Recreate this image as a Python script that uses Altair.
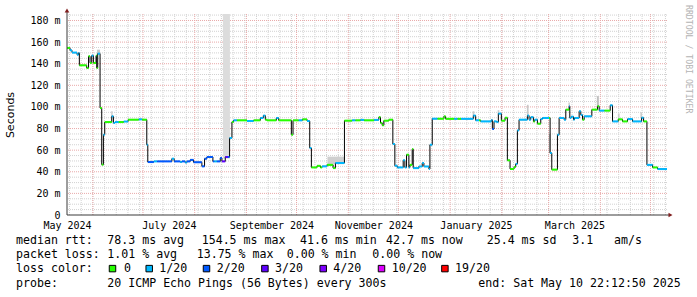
import altair as alt
import pandas as pd
from datetime import datetime, timezone, timedelta

START = datetime(2024, 5, 16, 12, 0, 0, tzinfo=timezone.utc)
END = datetime(2025, 5, 10, 22, 12, 50, tzinfo=timezone.utc)


def ms(dt):
    return int(dt.timestamp() * 1000)


# ---- median rtt samples: day offset from START, value (ms), loss level index ----
days = [0, 1.8, 3.0, 6.0, 6.9, 7.4, 11.8, 12.9, 13.8, 14.8, 15.8, 17.4, 17.8, 18.4,
        19.8, 20.8, 21.8, 22.6, 26.8, 27.8, 28.8, 31.0, 34.0, 36.6, 43.0, 45.0, 47.8,
        48.4, 52.0, 54.0, 62.8, 64.2, 67.8, 68.8, 70.8, 71.8, 73.8, 75.8, 80.8, 82.4,
        83.8, 87.4, 88.2, 89.8, 91.8, 92.8, 94.8, 96.4, 97.4, 98.8, 99.8, 101.8, 107.8,
        111.8, 115.8, 117.6, 118.8, 119.8, 125.4, 126.8, 134.4, 135.4, 138.8, 141.0,
        143.8, 145.4, 146.4, 149.8, 151.8, 152.8, 155.8, 159.4, 160.8, 166.2, 170.8,
        172.8, 175.8, 178.0, 184.0, 186.8, 187.8, 188.8, 189.8, 192.8, 195.2, 196.4,
        197.8, 201.4, 202.4, 203.4, 204.8, 205.4, 206.8, 207.4, 210.8, 212.8, 213.8,
        216.8, 217.4, 218.8, 222.0, 225.8, 226.8, 232.0, 234.0, 236.0, 243.4, 244.8,
        246.8, 247.8, 254.2, 254.8, 255.8, 257.4, 258.4, 260.2, 262.4, 263.8, 265.4,
        267.8, 268.8, 269.8, 270.8, 275.8, 276.8, 277.8, 279.4, 280.2, 281.8, 283.8,
        284.8, 288.8, 289.4, 290.4, 293.8, 294.8, 296.0, 297.8, 298.8, 300.8, 301.2,
        302.0, 303.4, 304.0, 306.8, 307.8, 308.8, 309.8, 314.4, 317.8, 318.8, 322.0,
        325.4, 326.8, 330.2, 332.8, 335.8, 338.8, 344.2, 345.4, 347.4, 350.8, 353.8]
rtt = [154.6, 152.4, 150.3, 148.4, 150.0, 138.5, 136.0, 146.9, 140.7, 147.5, 140.7, 147.5,
       136.0, 149.3, 99.0, 46.6, 74.3, 86.0, 91.3, 85.2, 86.0, 86.0, 86.5, 88.2, 88.5,
       88.2, 65.0, 49.0, 49.6, 49.6, 52.1, 49.6, 49.0, 49.6, 48.5, 49.6, 51.0, 48.8,
       45.0, 52.1, 53.7, 49.6, 49.6, 49.6, 52.8, 49.6, 53.7, 53.7, 71.3, 86.1, 87.6,
       87.6, 87.0, 87.6, 89.8, 92.0, 88.2, 87.6, 89.8, 87.6, 74.3, 87.6, 87.6, 88.5,
       87.0, 62.0, 44.0, 45.5, 44.0, 45.0, 46.4, 43.4, 48.1, 87.3, 87.6, 87.6, 88.0,
       87.6, 88.0, 90.5, 85.2, 83.0, 87.3, 88.2, 65.7, 45.6, 44.0, 50.6, 44.0, 55.8,
       44.0, 46.4, 61.0, 43.4, 44.9, 48.1, 44.9, 42.5, 65.0, 89.1, 89.1, 91.3, 89.0,
       89.0, 89.0, 89.0, 92.0, 87.6, 87.6, 86.6, 88.0, 79.6, 86.6, 86.0, 93.8, 87.3,
       90.0, 50.6, 42.6, 44.5, 47.3, 78.3, 88.2, 92.0, 88.2, 90.5, 86.6, 88.2, 84.5,
       88.8, 89.8, 89.8, 57.4, 42.0, 74.3, 89.8, 89.8, 88.2, 97.5, 100.6, 89.8, 91.0,
       88.2, 89.8, 96.0, 92.6, 88.2, 91.3, 97.5, 100.6, 96.6, 96.6, 101.5, 86.6, 88.5,
       86.6, 88.8, 86.6, 90.0, 86.6, 46.4, 44.0, 42.5]
loss = [0, 1, 1, 1, 1, 0, 0, 0, 0, 1, 0, 0, 0, 1, 0, 0, 1, 0, 1, 1, 1, 0, 1, 0, 1, 0, 1,
        2, 1, 2, 1, 2, 1, 2, 1, 2, 2, 2, 2, 2, 2, 2, 1, 2, 2, 3, 3, 2, 1, 0, 1, 0, 1, 0,
        1, 1, 0, 0, 1, 0, 0, 0, 1, 0, 1, 1, 0, 0, 0, 1, 0, 0, 1, 0, 1, 0, 1, 0, 1, 0, 0,
        0, 0, 0, 1, 1, 1, 1, 1, 0, 1, 0, 0, 1, 1, 1, 1, 1, 1, 1, 0, 0, 0, 1, 0, 1, 1, 1,
        0, 1, 1, 2, 1, 1, 1, 0, 0, 0, 0, 0, 1, 1, 1, 1, 1, 1, 0, 1, 0, 1, 1, 0, 1, 0, 1,
        1, 1, 1, 0, 1, 1, 1, 1, 1, 1, 1, 0, 1, 0, 0, 1, 0, 1, 1, 0, 0, 1, 1, 1, 0, 1, 0,
        1]

loss_labels = ["0", "1/20", "2/20", "3/20", "4/20", "10/20", "19/20"]
loss_colors = ["#26ff00", "#00b8ff", "#0059ff", "#5e00ff", "#7e00ff", "#dd00ff", "#ff0000"]

# ---- smoke (spread of pings): day start, day end, low, high ----
smoke_start = [18.0, 26.5, 93.4, 156.0, 243.0, 258.0, 275.5, 288.6, 300.4, 317.4, 330.0, 343.5]
smoke_end = [19.8, 27.3, 97.6, 166.0, 244.0, 259.0, 276.5, 289.6, 301.2, 318.6, 331.0, 344.5]
smoke_lo = [149, 91, 52, 47, 92, 93, 92, 57, 100, 100, 88, 90]
smoke_hi = [153, 96, 200, 54, 96, 97, 102, 75, 104, 110, 94, 95]
smoke_shade = ["#c8c8c8", "#c8c8c8", "#dcdcdc", "#cfcfcf", "#c8c8c8", "#c8c8c8", "#c8c8c8",
               "#c8c8c8", "#c8c8c8", "#c0c0c0", "#cccccc", "#cccccc"]

y_ticks = list(range(0, 181, 20))
label_months = ["2024-05", "2024-07", "2024-09", "2024-11", "2025-01", "2025-03"]

stat_lines = [
    [("median rtt:", 16), ("78.3 ms avg", 107.3), ("154.5 ms max", 201.7), ("41.6 ms min", 300),
     ("42.7 ms now", 386), ("25.4 ms sd", 486.7), ("3.1", 572.3), ("am/s", 614)],
    [("packet loss:", 16), ("1.01 % avg", 107.3), ("13.75 % max", 196.7), ("0.00 % min", 286.7),
     ("0.00 % now", 372.3)],
    [("loss color:", 16)],
    [("probe:", 16), ("20 ICMP Echo Pings (56 Bytes) every 300s", 107.3),
     ("end: Sat May 10 22:12:50 2025", 478.3)],
]
line_baselines = [244, 258.2, 272.4, 286.6]
swatch_left = [109.3, 146, 203.3, 261.7, 320, 378.3, 441.7]
swatch_label_x = [124, 159.3, 216.7, 275, 333.3, 391.7, 455]

# ---------------------------------------------------------------------------
W, H = 600, 201
PADL, PADT = 67, 14
MONO = "DejaVu Sans Mono"

x_scale = alt.Scale(domain=[ms(START), ms(END)], nice=False, zero=False)
y_scale = alt.Scale(domain=[0, 186], nice=False, zero=False)


def mid_month(s):
    y, m = map(int, s.split("-"))
    a = datetime(y, m, 1, tzinfo=timezone.utc)
    b = datetime(y + m // 12, m % 12 + 1, 1, tzinfo=timezone.utc)
    return ms(a + (b - a) / 2)


x_axis = alt.Axis(
    values=[mid_month(m) for m in label_months],
    labelExpr="utcFormat(datum.value, '%B %Y')",
    grid=False, ticks=False, tickSize=0, domain=False,
    labelFont=MONO, labelFontSize=10, labelColor="#000000",
    labelPadding=5, labelFlush=False, labelOverlap=False, title=None)
y_axis = alt.Axis(
    values=y_ticks,
    labelExpr="datum.value == 0 ? '0' : datum.value + ' m'",
    grid=False, ticks=False, tickSize=0, domain=False,
    labelFont=MONO, labelFontSize=10, labelColor="#000000", labelPadding=7,
    title="Seconds", titleFont="DejaVu Sans", titleFontSize=11,
    titleFontWeight="normal", titleColor="#000000", titlePadding=14)

t = [ms(START + timedelta(days=d)) for d in days]
t_next = t[1:] + [ms(END)]
seg = pd.DataFrame({"t": t, "t2": t_next, "rtt": rtt, "loss": [loss_labels[i] for i in loss]})
line_df = pd.DataFrame({"t": t + [ms(END)], "rtt": rtt + [rtt[-1]]})

smoke = pd.DataFrame({
    "t": [ms(START + timedelta(days=d)) for d in smoke_start],
    "t2": [ms(START + timedelta(days=d)) for d in smoke_end],
    "lo": smoke_lo, "hi": smoke_hi, "shade": smoke_shade,
})

minor_x = pd.DataFrame({"t": [int(ts.timestamp() * 1000) for ts in pd.date_range(
    pd.Timestamp("2024-05-18", tz="UTC"), pd.Timestamp(END), freq="7D")]})
major_x = pd.DataFrame({"t": [int(ts.timestamp() * 1000) for ts in pd.date_range(
    pd.Timestamp("2024-06-01", tz="UTC"), pd.Timestamp(END), freq="MS")]})
minor_y = pd.DataFrame({"v": [v for v in range(5, 186, 5) if v % 20]})
major_y = pd.DataFrame({"v": list(range(20, 181, 20))})

X = lambda f: alt.X(f, scale=x_scale, axis=x_axis)
Y = lambda f: alt.Y(f, scale=y_scale, axis=y_axis)

MINOR_C = "#d2d2d2"
MAJOR_C = "#e9a9a9"
g_minor_x = alt.Chart(minor_x).mark_rule(color=MINOR_C, strokeDash=[1, 1]).encode(x=X("t:Q"))
g_minor_y = alt.Chart(minor_y).mark_rule(color=MINOR_C, strokeDash=[1, 1]).encode(y=Y("v:Q"))
g_major_x = alt.Chart(major_x).mark_rule(color=MAJOR_C, strokeDash=[1, 1]).encode(x=X("t:Q"))
g_major_y = alt.Chart(major_y).mark_rule(color=MAJOR_C, strokeDash=[1, 1]).encode(y=Y("v:Q"))

g_smoke = alt.Chart(smoke).mark_rect(clip=True).encode(
    x=X("t:Q"), x2="t2:Q", y=Y("lo:Q"), y2="hi:Q",
    color=alt.Color("shade:N", scale=None, legend=None))

g_line = alt.Chart(line_df).mark_line(interpolate="step-after", color="#000000", strokeWidth=1).encode(
    x=X("t:Q"), y=Y("rtt:Q"))

g_seg = alt.Chart(seg).mark_rule(strokeWidth=2).encode(
    x=X("t:Q"), x2="t2:Q", y=Y("rtt:Q"),
    color=alt.Color("loss:N", scale=alt.Scale(domain=loss_labels, range=loss_colors), legend=None))

one = pd.DataFrame({"a": [0]})
AXIS_C = "#3a3a3a"
ARROW_C = "#801f1f"
y_axis_line = alt.Chart(one).mark_rule(color=AXIS_C, strokeWidth=1).encode(
    x=alt.value(0), y=alt.value(-3), y2=alt.value(H))
x_axis_line = alt.Chart(one).mark_rule(color=AXIS_C, strokeWidth=1).encode(
    x=alt.value(0), x2=alt.value(W + 3), y=alt.value(H))
up_arrow = alt.Chart(one).mark_point(shape="triangle-up", filled=True, color=ARROW_C, size=22, opacity=1).encode(
    x=alt.value(0), y=alt.value(-3.5))
right_arrow = alt.Chart(one).mark_point(shape="triangle-right", filled=True, color=ARROW_C, size=22, opacity=1).encode(
    x=alt.value(W + 3.5), y=alt.value(H))


def txt(s, px, py, size=11.6, font=MONO, color="#000000", angle=0, align="left", baseline="alphabetic"):
    return alt.Chart(pd.DataFrame({"s": [s]})).mark_text(
        font=font, fontSize=size, color=color, align=align, baseline=baseline, angle=angle
    ).encode(x=alt.value(px - PADL), y=alt.value(py - PADT), text="s:N")


texts = []
for items, by in zip(stat_lines, line_baselines):
    for s, px in items:
        texts.append(txt(s, px, by))
for lab, col, lx, sx in zip(loss_labels, loss_colors, swatch_label_x, swatch_left):
    texts.append(txt(lab, lx, line_baselines[2]))
    texts.append(alt.Chart(pd.DataFrame({"c": [col]})).mark_square(
        size=42, stroke="#000000", strokeWidth=1, opacity=1).encode(
        x=alt.value(sx + 3.2 - PADL), y=alt.value(268.6 - PADT),
        fill=alt.Color("c:N", scale=None, legend=None)))
texts.append(txt("RRDTOOL / TOBI OETIKER", 687.5, 5, size=8.2, color="#b4b4b4",
                 angle=90, baseline="middle"))

chart = alt.layer(
    g_minor_x, g_minor_y, g_major_x, g_major_y, g_smoke, g_line, g_seg,
    y_axis_line, x_axis_line, up_arrow, right_arrow, *texts
).properties(
    width=W, height=H,
    autosize=alt.AutoSizeParams(type="none"),
    padding={"left": PADL, "top": PADT, "right": 697 - PADL - W, "bottom": 297 - PADT - H},
    background="#ffffff",
).configure_view(stroke=None)

chart.save("out.html", embed_options={"renderer": "svg", "actions": False})
